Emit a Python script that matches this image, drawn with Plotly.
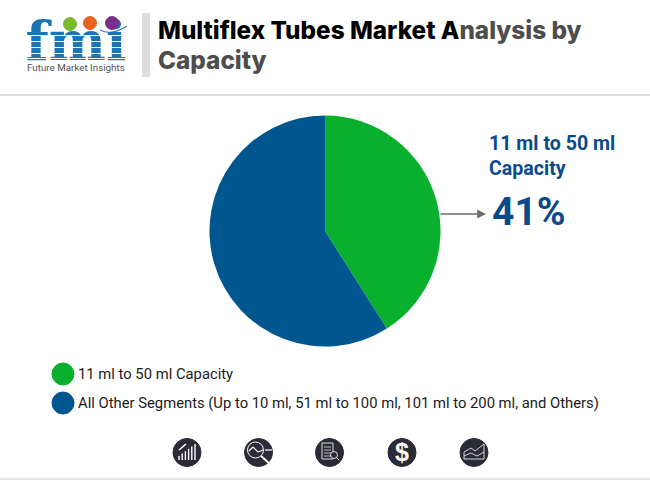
import plotly.graph_objects as go

W, H = 650, 480

categories = ['11 ml to 50 ml Capacity',
              'All Other Segments (Up to 10 ml, 51 ml to 100 ml, 101 ml to 200 ml, and Others)']
values = [41, 59]
colors = ['#08B02E', '#00568F']

callout_label = '11 ml to 50 ml<br>Capacity'
callout_value = '41%'
icon_x = [187, 258.5, 329.5, 402, 474]


def px(x):
    return x / W


def py(y):
    return 1 - y / H


def rect(x0, y0, x1, y1, color, line=None):
    return dict(type='rect', xref='paper', yref='paper', x0=px(x0), x1=px(x1), y0=py(y0), y1=py(y1),
                fillcolor=color, line=dict(color=line or color, width=1 if line else 0), layer='above')


def circle(cx, cy, r, color, line=None):
    return dict(type='circle', xref='paper', yref='paper', x0=px(cx - r), x1=px(cx + r), y0=py(cy + r), y1=py(cy - r),
                fillcolor=color, line=dict(color=line or color, width=1), layer='above')


def seg(x0, y0, x1, y1, color='#ffffff', width=1.2):
    return dict(type='line', xref='paper', yref='paper', x0=px(x0), x1=px(x1), y0=py(y0), y1=py(y1),
                line=dict(color=color, width=width), layer='above')


def label(x, y, text, size, color, family='Roboto', xanchor='left', yanchor='middle', weight=None):
    return dict(x=px(x), y=py(y), xref='paper', yref='paper', text=text, showarrow=False, align='left',
                xanchor=xanchor, yanchor=yanchor, font=dict(family=family, size=size, color=color, weight=weight))


fig = go.Figure(go.Pie(values=values, labels=categories, sort=False, direction='clockwise', rotation=0,
                       marker=dict(colors=colors, line=dict(width=0)), textinfo='none', hoverinfo='label+percent',
                       domain=dict(x=[px(209.5), px(440.5)], y=[py(346.5), py(115.5)])))

# logo letters as a text trace, so the white stripes can sit on top of them
fig.add_trace(go.Scatter(x=[76], y=[46], mode='text', text=['fmi'], textposition='middle center', hoverinfo='skip',
                         textfont=dict(family='DejaVu Serif', size=54, color='#1B75B5', weight='bold')))

shapes = [
    rect(0, 94, W, 96, '#DDDDDD'),
    rect(0, 478, W, H, '#E4E4E4'),
    rect(142, 13, 150, 77, '#DDDDDD'),
]

shapes += [circle(70, 24, 6.5, '#7AB82E'), circle(90, 23, 6.5, '#E8641E'), circle(112, 23, 6.5, '#7B2D8E')]
shapes.append(dict(type='path', xref='paper', yref='paper', layer='above', line=dict(color='#2B7CB8', width=1.2),
                   path=f'M {px(100)} {py(30)} Q {px(112)} {py(36)} {px(127)} {py(26)}'))

annotations = [
    label(76, 68, 'Future Market Insights', 9.8, '#555555', xanchor='center'),
    label(156, 30, 'Multiflex Tubes Market A<span style="color:#4D4D4D">nalysis by</span>', 24.3, '#000000',
          family='Inter', weight=800),
    label(156, 60, 'Capacity', 24.3, '#4D4D4D', family='Inter', weight=800),
    label(487, 156, f'<b>{callout_label}</b>', 19.6, '#0B4A8A'),
    label(490, 212, f'<b>{callout_value}</b>', 39, '#0B4A8A'),
    label(76, 374, categories[0], 14.8, '#1A1A1A'),
    label(76, 403, categories[1], 14.8, '#1A1A1A'),
    dict(x=px(486), y=py(214), ax=-47, ay=0, xref='paper', yref='paper', axref='pixel', ayref='pixel',
         text='', showarrow=True, arrowhead=2, arrowsize=1.1, arrowwidth=1.6, arrowcolor='#6E6E6E'),
]

for y in [35, 41, 47, 53, 58]:
    shapes.append(rect(26, y, 128, y + 1, '#FFFFFF'))

shapes += [circle(63, 374, 11, colors[0]), circle(63, 403, 11, colors[1])]

# footer icons
for cx in icon_x:
    shapes.append(circle(cx, 452.5, 14, '#2B2B38'))

shapes += [seg(179 + i * 3.2, 460, 179 + i * 3.2, 456 - i * 2.4, width=1.4) for i in range(6)]
shapes += [seg(179, 450, 186, 444, width=1.6)]
shapes += [circle(255.5, 450, 8, '#2B2B38', line='#FFFFFF'), seg(261, 456, 270, 464, width=2), seg(265, 450, 272, 450),
           seg(249, 451, 253, 447), seg(253, 447, 258, 452), seg(258, 452, 263, 450)]
shapes += [rect(322, 443, 333, 459, '#2B2B38', line='#DDDDDD')]
shapes += [seg(324, 447 + i * 3, 331, 447 + i * 3, color='#DDDDDD', width=0.8) for i in range(4)]
shapes += [circle(334, 455, 3.5, '#2B2B38', line='#DDDDDD'), seg(336.5, 457.5, 339, 460, color='#DDDDDD', width=1)]
annotations.append(label(402, 452, '<b>$</b>', 25, '#FFFFFF', family='Liberation Sans', xanchor='center'))
shapes += [seg(464, 459, 484, 459, width=0.8), seg(464, 459, 464, 452, width=0.8), seg(464, 452, 471, 448, width=0.8),
           seg(471, 448, 475, 451, width=0.8), seg(475, 451, 484, 444, width=0.8), seg(484, 444, 484, 459, width=0.8),
           seg(464, 456, 471, 453, width=0.8), seg(471, 453, 477, 456, width=0.8), seg(477, 456, 484, 452, width=0.8)]

fig.update_layout(width=W, height=H, margin=dict(l=0, r=0, t=0, b=0), showlegend=False, autosize=False,
                  paper_bgcolor='#FFFFFF', plot_bgcolor='rgba(0,0,0,0)', shapes=shapes, annotations=annotations,
                  xaxis=dict(range=[0, W], visible=False, fixedrange=True),
                  yaxis=dict(range=[H, 0], visible=False, fixedrange=True))

fig.write_html("out.html", config={'displayModeBar': False},
               post_script="document.body.style.margin='0';document.body.style.overflow='hidden';")
